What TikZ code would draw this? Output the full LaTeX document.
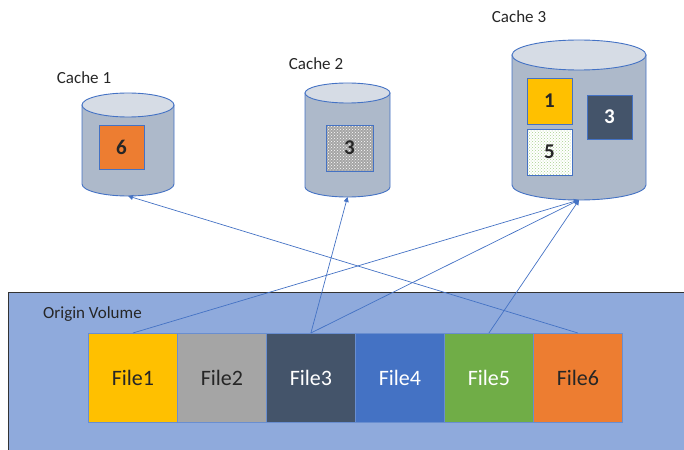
\documentclass[tikz,border=0pt]{standalone}
\usepackage{fontspec}
\setmainfont{Carlito}
\usetikzlibrary{arrows.meta,patterns}

\definecolor{linkblue}{HTML}{4472C4}
\definecolor{cylbody}{HTML}{ADB9CA}
\definecolor{cyltop}{HTML}{D6DCE5}
\definecolor{volfill}{HTML}{8FAADC}
\definecolor{fOne}{HTML}{FFC000}
\definecolor{fTwo}{HTML}{A5A5A5}
\definecolor{fThree}{HTML}{44546A}
\definecolor{fFour}{HTML}{4472C4}
\definecolor{fFive}{HTML}{70AD47}
\definecolor{fSix}{HTML}{ED7D31}
\definecolor{txtdark}{HTML}{262626}
\definecolor{dotgreen}{HTML}{A9D18E}

\tikzset{
  lbl/.style={font=\fontsize{17}{20}\selectfont, text=txtdark, inner sep=0pt},
  filebox/.style={draw=linkblue!80!white, line width=0.8pt, minimum width=89pt,
    minimum height=89pt, inner sep=0pt, anchor=north west,
    font=\fontsize{22}{26}\selectfont},
  block/.style={draw=linkblue, line width=0.8pt, inner sep=0pt,
    font=\bfseries\fontsize{21}{24}\selectfont},
  link/.style={draw=linkblue, line width=0.7pt,
    -{Triangle[length=5pt,width=5pt]}},
  anchorbox/.style={inner sep=0pt, outer sep=0pt},
}

% cylinder: #1 left x, #2 right x, #3 top ellipse centre y, #4 bottom ellipse centre y, #5 y radius
\newcommand{\drumshape}[5]{%
  \pgfmathsetmacro{\cx}{(#1+#2)/2}%
  \pgfmathsetmacro{\rx}{(#2-#1)/2}%
  \pgfmathsetmacro{\kx}{0.5523*\rx}%
  \pgfmathsetmacro{\ky}{0.5523*#5}%
  \filldraw[fill=cylbody, draw=linkblue, line width=0.9pt]
    (#1,#3) -- (#1,#4)
    .. controls (#1,#4+\ky) and (\cx-\kx,#4+#5) .. (\cx,#4+#5)
    .. controls (\cx+\kx,#4+#5) and (#2,#4+\ky) .. (#2,#4)
    -- (#2,#3) -- cycle;
  \filldraw[fill=cyltop, draw=linkblue, line width=0.9pt]
    (\cx,#3) ellipse [x radius=\rx, y radius=#5];
}

\begin{document}
\begin{tikzpicture}[x=1pt, y=-1pt]
\useasboundingbox (0,0) rectangle (684,449);

% origin volume
\filldraw[fill=volfill, draw=black!80, line width=0.9pt]
  (8,292) rectangle (700,470);
\node[lbl, anchor=west] (vol) at (43,314) {Origin Volume};

% files
\node[filebox, fill=fOne,   text=txtdark] (f1) at (88,333)  {File1};
\node[filebox, fill=fTwo,   text=txtdark] (f2) at (177,333) {File2};
\node[filebox, fill=fThree, text=white]   (f3) at (266,333) {File3};
\node[filebox, fill=fFour,  text=white]   (f4) at (355,333) {File4};
\node[filebox, fill=fFive,  text=white]   (f5) at (444,333) {File5};
\node[filebox, fill=fSix,   text=txtdark] (f6) at (533,333) {File6};

% caches
\drumshape{82}{174}{105}{184}{12}
\drumshape{305}{390}{93}{187}{10}
\drumshape{512}{646}{55}{185}{15}

\node[anchorbox, minimum width=92pt, minimum height=103pt] (cache1) at (128,144.5) {};
\node[anchorbox, minimum width=85pt, minimum height=114pt] (cache2) at (347.5,140) {};
\node[anchorbox, minimum width=134pt, minimum height=160pt] (cache3) at (579,120) {};

\node[lbl] (l1) at (84,78) {Cache 1};
\node[lbl] (l2) at (316,64) {Cache 2};
\node[lbl] (l3) at (519,17) {Cache 3};

% cached blocks
\node[block, fill=fSix, minimum width=45pt, minimum height=44pt, text=txtdark] (b6) at (121.5,147) {6};
\node[block, fill=fTwo, minimum width=47pt, minimum height=46pt] (b3a) at (349.5,148) {};
\fill[pattern=crosshatch dots, pattern color=white] (327,126) rectangle (372,170);
\node[block, minimum width=47pt, minimum height=46pt, text=txtdark] at (349.5,148) {3};
\node[block, fill=fOne, minimum width=45pt, minimum height=46pt, text=txtdark] (b1) at (549.5,101) {1};
\node[block, fill=white, minimum width=45pt, minimum height=46pt] (b5) at (549.5,152) {};
\fill[pattern=crosshatch dots, pattern color=dotgreen] (528,130) rectangle (571,174);
\node[block, minimum width=45pt, minimum height=46pt, text=txtdark] at (549.5,152) {5};
\node[block, fill=fThree, minimum width=45pt, minimum height=44pt, text=white] (b3b) at (609.5,117) {3};

% replication links
\draw[link] (f1.north) -- (cache3.south);
\draw[link] (f3.north) -- (cache2.south);
\draw[link] (f3.north) -- (cache3.south);
\draw[link] (f5.north) -- (cache3.south);
\draw[link] (f6.north) -- (cache1.south);
\end{tikzpicture}
\end{document}
